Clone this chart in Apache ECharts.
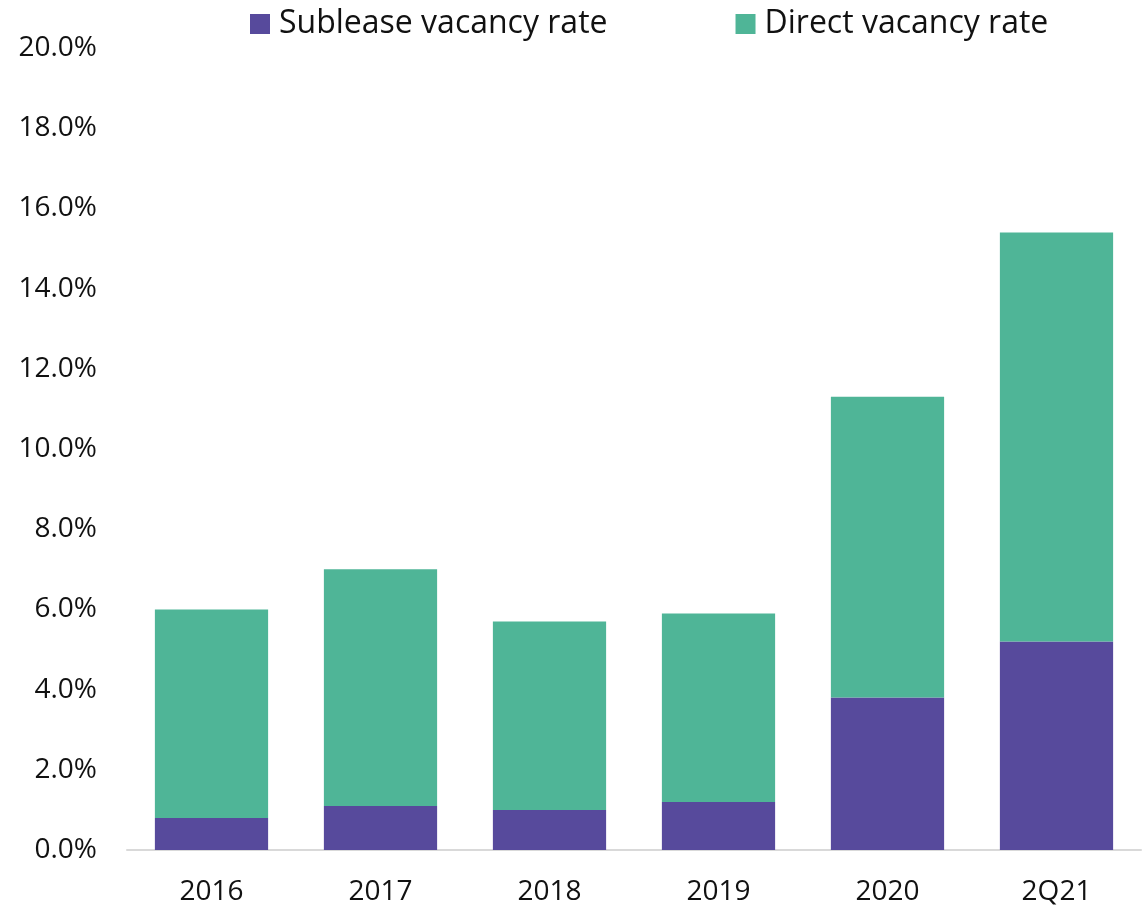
<!DOCTYPE html>
<html><head><meta charset="utf-8">
<script src="https://cdn.jsdelivr.net/npm/echarts@6/dist/echarts.min.js"></script>
<style>html,body{margin:0;padding:0;background:#fff}#c{width:1148px;height:906px}</style>
</head><body><div id="c"></div>
<script>
const categories = ['2016','2017','2018','2019','2020','2Q21'];
const sublease = [0.8, 1.1, 1.0, 1.2, 3.8, 5.2];
const direct = [5.2, 5.9, 4.7, 4.7, 7.5, 10.2];
const yTicks = {min: 0, max: 20, interval: 2};

const font = '"Open Sans", sans-serif';
const chart = echarts.init(document.getElementById('c'));
chart.setOption({
  animation: false,
  textStyle: {fontFamily: font},
  legend: {
    top: 3, left: 245,
    itemWidth: 20, itemHeight: 20, itemGap: 128,
    icon: 'rect',
    textStyle: {fontSize: 32, color: '#111', fontFamily: font, padding: [0, 0, 0, 4]},
    data: ['Sublease vacancy rate', 'Direct vacancy rate']
  },
  grid: {left: 127, right: 7, top: 48, bottom: 56, containLabel: false},
  xAxis: {
    type: 'category', data: categories,
    axisLine: {lineStyle: {color: '#d9d9d9', width: 2}},
    axisTick: {show: false},
    axisLabel: {fontSize: 28, color: '#111', margin: 28, fontFamily: font}
  },
  yAxis: {
    type: 'value', min: yTicks.min, max: yTicks.max, interval: yTicks.interval,
    splitLine: {show: false},
    axisLine: {show: false}, axisTick: {show: false},
    axisLabel: {fontSize: 28, color: '#111', margin: 30, fontFamily: font,
      formatter: v => v.toFixed(1) + '%'}
  },
  series: [
    {name: 'Sublease vacancy rate', type: 'bar', stack: 't', data: sublease,
     barCategoryGap: '33%', itemStyle: {color: '#574a9c'}},
    {name: 'Direct vacancy rate', type: 'bar', stack: 't', data: direct,
     barCategoryGap: '33%', itemStyle: {color: '#4fb597'}}
  ]
});
</script></body></html>
